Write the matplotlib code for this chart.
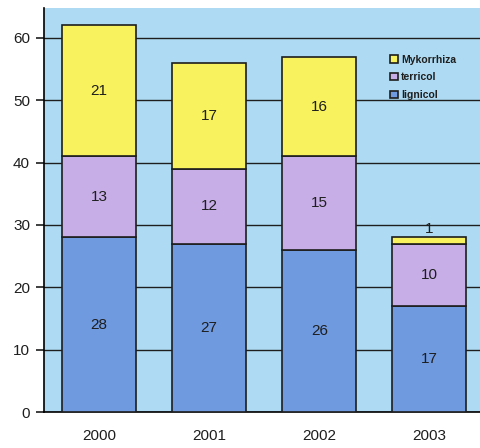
import matplotlib
matplotlib.use("Agg")
import matplotlib.pyplot as plt
import numpy as np

plt.rcParams["font.family"] = ["Liberation Sans", "DejaVu Sans"]

years = ["2000", "2001", "2002", "2003"]
lignicol = [28, 27, 26, 17]
terricol = [13, 12, 15, 10]
mykorrhiza = [21, 17, 16, 1]

col_lig = "#6f9ae0"
col_ter = "#c7aee6"
col_myk = "#f7f25e"
bg = "#aedbf3"
ink = "#1e1e1e"

fig = plt.figure(figsize=(4.8, 4.48), dpi=100)
fig.patch.set_facecolor("white")
ax = fig.add_axes([44 / 480, 36 / 448, 1 - 44 / 480, 404 / 448])
ax.set_facecolor(bg)

x = np.arange(len(years))
w = 0.67
lig = np.array(lignicol)
ter = np.array(terricol)
myk = np.array(mykorrhiza)

ax.bar(x, lig, w, color=col_lig, edgecolor=ink, linewidth=1.2, label="lignicol", zorder=3)
ax.bar(x, ter, w, bottom=lig, color=col_ter, edgecolor=ink, linewidth=1.2, label="terricol", zorder=3)
ax.bar(x, myk, w, bottom=lig + ter, color=col_myk, edgecolor=ink, linewidth=1.2, label="Mykorrhiza", zorder=3)

# Zahlen in den Segmenten
for i in range(len(years)):
    ax.text(x[i], lig[i] / 2, str(lig[i]), ha="center", va="center", fontsize=11, color=ink, zorder=4)
    ax.text(x[i], lig[i] + ter[i] / 2, str(ter[i]), ha="center", va="center", fontsize=11, color=ink, zorder=4)
    if myk[i] > 3:
        ax.text(x[i], lig[i] + ter[i] + myk[i] / 2, str(myk[i]), ha="center", va="center", fontsize=11, color=ink, zorder=4)
    else:
        ax.text(x[i], lig[i] + ter[i] + myk[i] + 0.2, str(myk[i]), ha="center", va="bottom", fontsize=11, color=ink, zorder=4)

ax.set_xlim(-0.5, 3.46)
ax.set_ylim(0, 64.8)
ax.set_yticks(range(0, 61, 10))
ax.yaxis.grid(True, color=ink, linewidth=1.0, zorder=0)
ax.set_axisbelow(True)
ax.set_xticks(x)
ax.set_xticklabels(years, fontsize=11, color=ink)
ax.tick_params(axis="x", length=0, pad=12)
ax.tick_params(axis="y", length=6, width=1.2, labelsize=11, colors=ink, pad=4)

for s in ["top", "right"]:
    ax.spines[s].set_visible(False)
ax.spines["left"].set_linewidth(1.2)
ax.spines["bottom"].set_linewidth(1.2)

h, l = ax.get_legend_handles_labels()
leg = ax.legend(h[::-1], l[::-1], loc="upper left", bbox_to_anchor=(0.785, 0.895),
                frameon=False, fontsize=7.5, handlelength=0.7, handleheight=0.7,
                handletextpad=0.3, labelspacing=0.75, borderaxespad=0)
for t in leg.get_texts():
    t.set_fontweight("bold")
    t.set_color(ink)

fig.savefig("out.png", dpi=100)
